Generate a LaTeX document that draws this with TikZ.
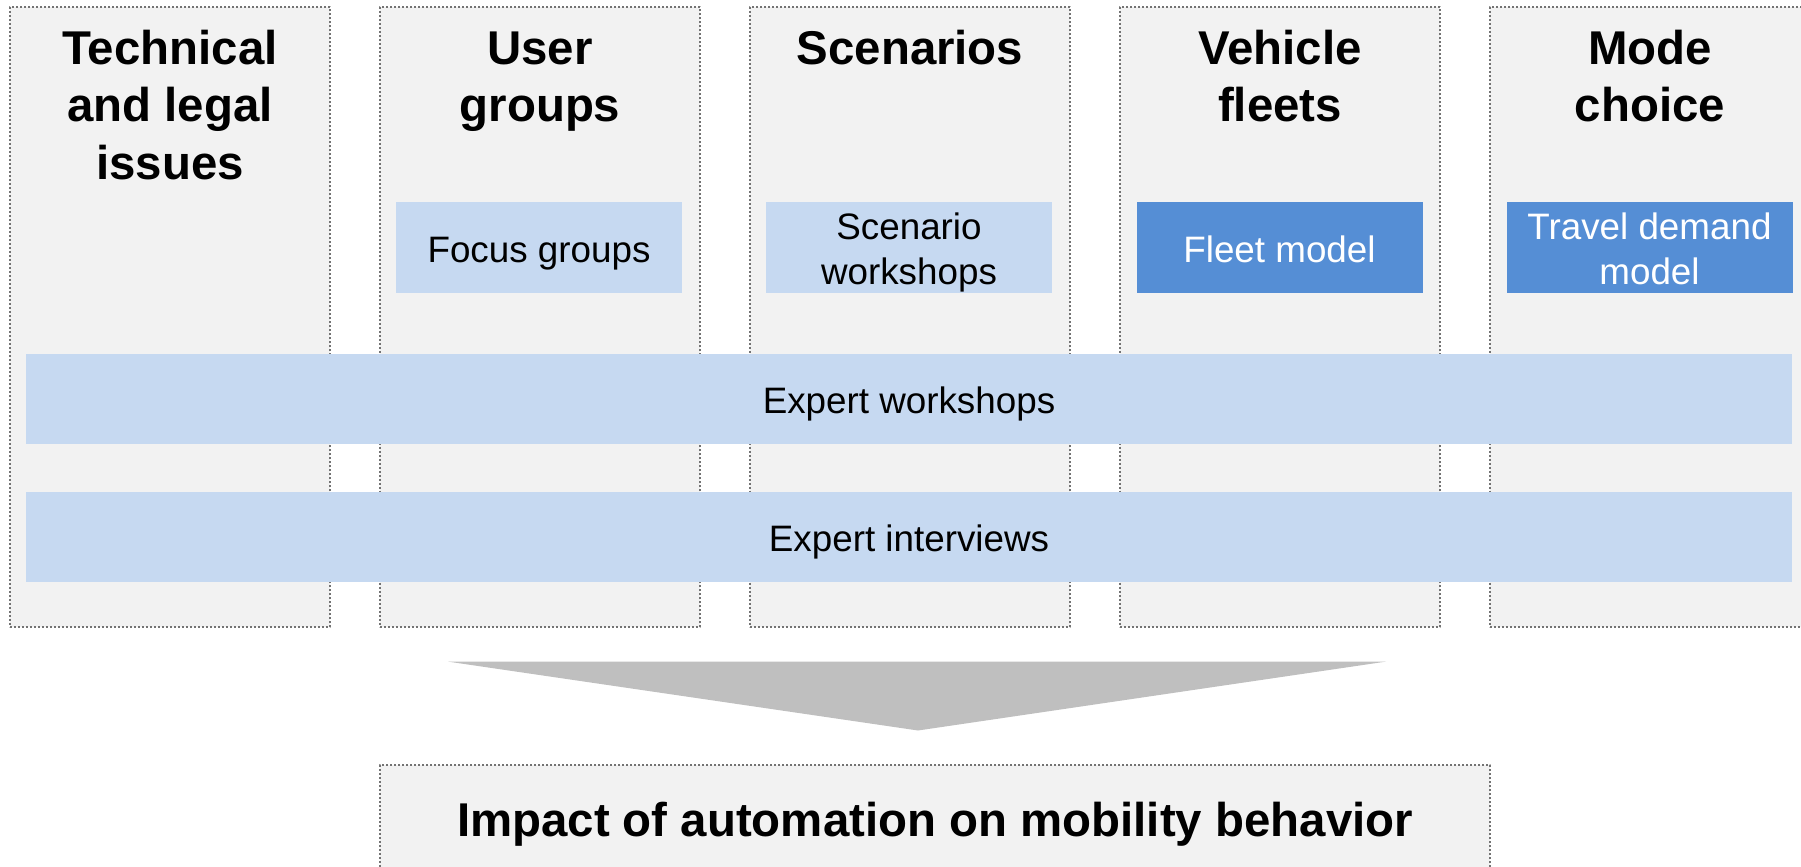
\documentclass[tikz,border=0pt]{standalone}
\usepackage{fontspec}
\setmainfont{Liberation Sans}
\definecolor{panelgray}{HTML}{F2F2F2}
\definecolor{lightblue}{HTML}{C6D9F1}
\definecolor{darkblue}{HTML}{558ED5}
\definecolor{arrowgray}{HTML}{BFBFBF}
\begin{document}
\begin{tikzpicture}[x=0.5pt, y=-0.5pt, line join=round,
  panel/.style={draw=black!55, fill=panelgray, dash pattern=on 1.2pt off 0.8pt, line width=0.6pt, minimum width=160pt, minimum height=310pt, inner sep=0},
  title/.style={font=\fontsize{23.7}{28.75}\selectfont\bfseries, align=center, inner sep=0},
  method/.style={fill=lightblue, minimum width=143pt, minimum height=45.5pt, inner sep=0, text height=16.6pt, text depth=1.8pt, align=center, font=\fontsize{18.4}{22.5}\selectfont},
  twoline/.style={text height=39.1pt},
  model/.style={method, fill=darkblue, text=white},
  band/.style={method, minimum width=883pt, minimum height=45pt}]
\path[use as bounding box, clip] (0,0) rectangle (1801,867);
\foreach \i/\t in {0/{Technical\\and legal\\issues}, 1/{User\\groups}, 2/Scenarios, 3/{Vehicle\\fleets}, 4/{Mode\\choice}}{
  \node[panel] (col\i) at (170+370*\i,317) {};
  \node[title, anchor=north] (head\i) at (170+370*\i,23.6) {\strut\t};}
\node[method] (focus) at (539,247.5) {Focus groups};
\node[method, twoline] (scenario) at (909,247.5) {Scenario\\workshops};
\node[model] (fleet) at (1279.5,247.5) {Fleet model};
\node[model, twoline] (demand) at (1649.5,247.5) {Travel demand\\model};
\node[band] (workshops) at (909,399) {Expert workshops};
\node[band] (interviews) at (909,537) {Expert interviews};
\path (448,661.6) coordinate (L) (1386,661.6) coordinate (R) (918,730.5) coordinate (T);
\fill[arrowgray] (L)--(R)--(T)--cycle;
\node[panel, minimum width=555pt, minimum height=70pt] (impact) at (935,835) {};
\node[title, anchor=base] (result) at (935,836) {Impact of automation on mobility behavior};
\end{tikzpicture}
\end{document}
